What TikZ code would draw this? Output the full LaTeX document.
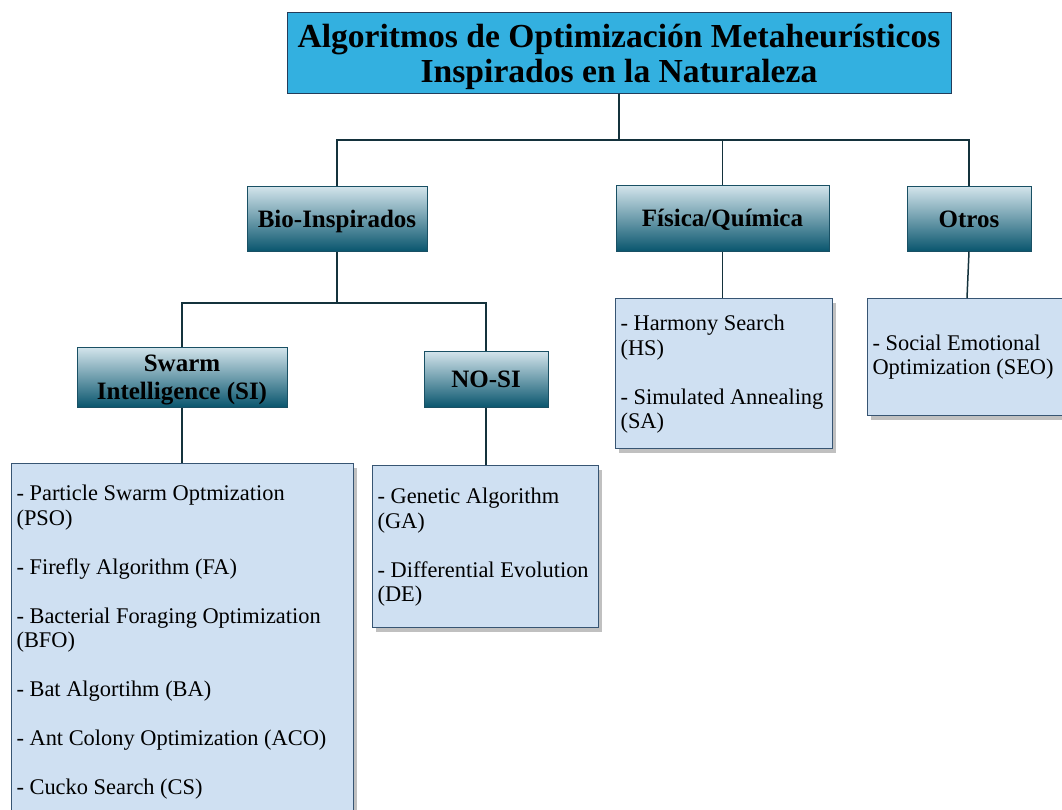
\documentclass[tikz,border=0pt]{standalone}
\usepackage{fontspec}
\setmainfont{Liberation Serif}
\usetikzlibrary{shadows,calc}

\definecolor{titlefill}{RGB}{51,176,224}
\definecolor{titleline}{RGB}{35,60,90}
\definecolor{hdtop}{RGB}{212,229,236}
\definecolor{hdbot}{RGB}{10,86,110}
\definecolor{hdline}{RGB}{25,80,100}
\definecolor{listfill}{RGB}{207,224,242}
\definecolor{listline}{RGB}{55,85,115}
\definecolor{wire}{RGB}{20,50,60}

\tikzset{
  titlebox/.style={draw=titleline, line width=1pt, fill=titlefill,
    minimum width=664pt, minimum height=81pt, inner sep=0pt},
  titletext/.style={inner sep=0pt, align=center,
    font=\bfseries\fontsize{33.6}{35}\selectfont},
  headbox/.style={draw=hdline, line width=1pt, top color=hdtop, bottom color=hdbot,
    inner sep=0pt, align=center, font=\bfseries\fontsize{25}{28}\selectfont},
  headtext/.style={inner sep=0pt, align=center, font=\bfseries\fontsize{25}{28}\selectfont},
  oneline/.style={text height=17pt, text depth=0pt},
  listbox/.style={draw=listline, line width=1.1pt, fill=listfill,
    drop shadow={shadow xshift=3pt, shadow yshift=-4pt, opacity=0.45, fill=black!55},
    inner xsep=5pt, inner ysep=0pt, anchor=north west,
    font=\fontsize{22.4}{24.5}\selectfont},
  conn/.style={draw=wire, line width=1.5pt},
}

\begin{document}
\begin{tikzpicture}[x=1pt, y=-1pt]
\useasboundingbox (0,0) rectangle (1062,809);

% root
\node[titlebox] (root) at (619,52.5) {};
\node[titletext] (roottext) at ($(root.center)+(0,4.5)$)
  {Algoritmos de Optimización Metaheurísticos\\Inspirados en la Naturaleza};

% first level
\node[headbox, oneline, minimum width=180pt, minimum height=65pt] (bio) at (337,218.5) {Bio-Inspirados};
\node[headbox, oneline, minimum width=213pt, minimum height=66pt] (fis) at (722.5,218) {Física/Química};
\node[headbox, oneline, minimum width=124pt, minimum height=65pt] (otr) at (969,218.5) {Otros};

% second level
\node[headbox, minimum width=210pt, minimum height=60pt] (si) at (182,377) {};
\node[headtext] (sitext) at ($(si.center)+(0,3)$) {Swarm\\Intelligence (SI)};
\node[headbox, oneline, minimum width=124pt, minimum height=56pt] (nosi) at (486,379) {NO-SI};

% algorithm lists
\node[listbox] (silist) at (11,463) {\parbox[c][360pt][t]{332pt}{\raggedright
  \rule{0pt}{37pt}- Particle Swarm Optmization\\(PSO)\\[24.5pt]
  - Firefly Algorithm (FA)\\[24.5pt]
  - Bacterial Foraging Optimization\\(BFO)\\[24.5pt]
  - Bat Algortihm (BA)\\[24.5pt]
  - Ant Colony Optimization (ACO)\\[24.5pt]
  - Cucko Search (CS)}};

\node[listbox] (nosilist) at (372,465) {\parbox[c][162pt][t]{216pt}{\raggedright
  \rule{0pt}{38pt}- Genetic Algorithm\\(GA)\\[24.5pt]
  - Differential Evolution\\(DE)}};

\node[listbox] (fislist) at (615,298) {\parbox[c][150pt][t]{207pt}{\raggedright
  \rule{0pt}{32pt}- Harmony Search\\(HS)\\[24.5pt]
  - Simulated Annealing\\(SA)}};

\node[listbox] (otrlist) at (867,298) {\parbox[c][117pt][c]{200pt}{\raggedright
  - Social Emotional\\Optimization (SEO)}};

% bus lines
\coordinate (busA) at (0,140);
\coordinate (busB) at (0,303);

\draw[conn] (root.south) -- (root.south |- busA);
\draw[conn] (bio.north) |- (otr.north |- busA) -- (otr.north);
\draw[conn] (fis.north) -- (fis.north |- busA);

\draw[conn] (bio.south) -- (bio.south |- busB);
\draw[conn] (si.north) |- (nosi.north |- busB) -- (nosi.north);

\draw[conn] (si.south) -- (si.south |- silist.north);
\draw[conn] (nosi.south) -- (nosi.south |- nosilist.north);
\draw[conn] (fis.south) -- (fis.south |- fislist.north);
\draw[conn] (otr.south) -- ($(otrlist.north west)+(100,0)$);
\end{tikzpicture}
\end{document}
